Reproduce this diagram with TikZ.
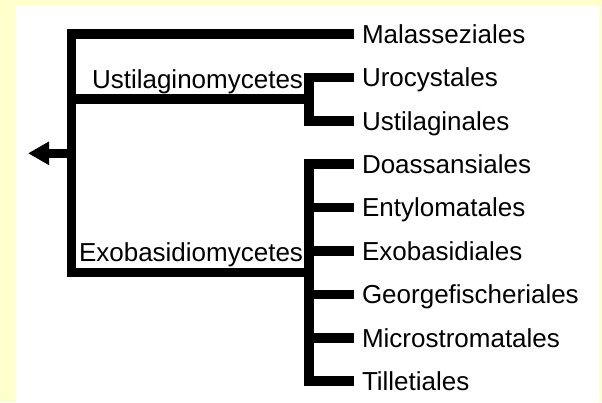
\documentclass[tikz,border=0pt]{standalone}
\usepackage{fontspec}
\setmainfont{Liberation Sans}
\usetikzlibrary{arrows.meta, positioning, calc}
\definecolor{paleYellow}{HTML}{FFFFCC}
\tikzset{
    font=\fontsize{26pt}{30pt}\selectfont,
    >=Triangle,
    % Lines
    branch/.style={line width=9.5pt, line join=miter, line cap=butt},
    % Labels
    taxon/.style={anchor=west, inner xsep=8pt, inner ysep=0pt, outer sep=0pt,
                  text height=18.6pt, text depth=0pt},
    clade/.style={inner sep=0pt, outer sep=0pt}
}

\begin{document}
\begin{tikzpicture}[x=1pt, y=-1pt, node distance=43.4pt]

\useasboundingbox (0,0) rectangle (602,402);
\fill[paleYellow] (0,0) rectangle (602,402);
\fill[white] (16,5) rectangle (599,402);

% Orders
\node[taxon] (mal) at (354,34) {Malasseziales};
\node[taxon, below=of mal.west, anchor=west] (uro) {Urocystales};
\node[taxon, below=of uro.west, anchor=west] (ust) {Ustilaginales};
\node[taxon, below=of ust.west, anchor=west] (doa) {Doassansiales};
\node[taxon, below=of doa.west, anchor=west] (ent) {Entylomatales};
\node[taxon, below=of ent.west, anchor=west] (exb) {Exobasidiales};
\node[taxon, below=of exb.west, anchor=west] (geo) {Georgefischeriales};
\node[taxon, below=of geo.west, anchor=west] (mic) {Microstromatales};
\node[taxon, below=of mic.west, anchor=west] (til) {Tilletiales};

% Branch points
\coordinate (ustc) at ($(uro.west)!.5!(ust.west)+(-45,0)$);
\coordinate (exoc) at ($(doa.west)!.5!(til.west)+(-45,0)$);
\coordinate (root) at (71.5,153.3);
\coordinate (out) at (28,153.3);

% Classes
\node[clade, above left=11pt and 6pt of ustc, anchor=base east] (ustlbl) {Ustilaginomycetes};
\node[clade, above left=11pt and 6pt of exoc, anchor=base east] (exolbl) {Exobasidiomycetes};

\draw[branch] (mal.west) -| (root) |- (exoc);
\draw[branch] (root |- ustc) -- (ustc);
\draw[branch] (uro.west) -| (ustc) |- (ust.west);
\draw[branch] (doa.west) -| (exoc) |- (til.west);
\foreach \n in {ent, exb, geo, mic}
    \draw[branch] (exoc |- \n.west) -- (\n.west);

\draw[branch, -{Triangle[length=21pt, width=22pt]}] (root) -- (out);

\end{tikzpicture}
\end{document}
